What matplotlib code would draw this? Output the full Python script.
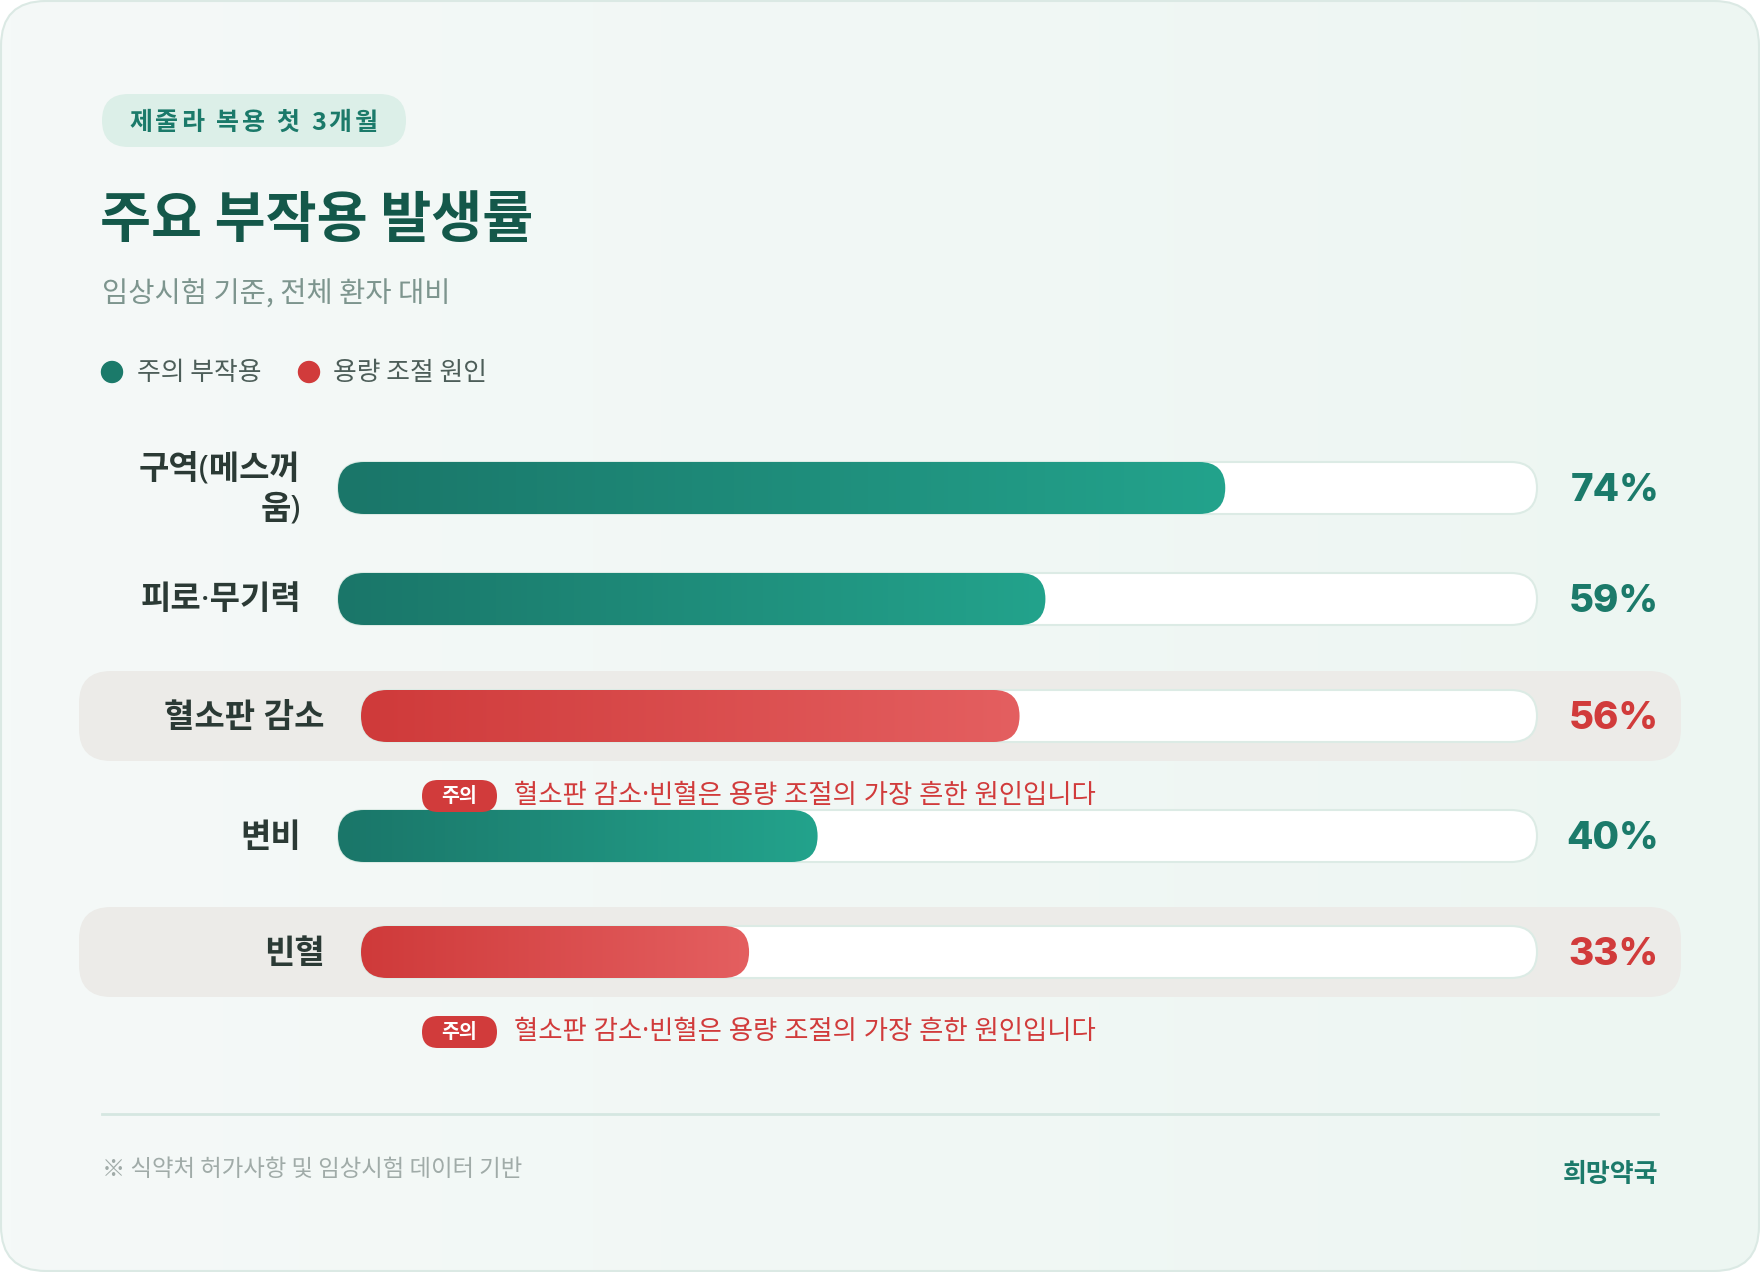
import matplotlib
matplotlib.use("Agg")
import matplotlib.pyplot as plt
from matplotlib.patches import FancyBboxPatch, Circle
from matplotlib.colors import LinearSegmentedColormap
import numpy as np

plt.rcParams['font.family'] = ['Noto Sans CJK KR', 'DejaVu Sans']
DOT_FONT = ['Noto Sans', 'Noto Sans CJK KR']

# data
labels = ["구역(메스꺼\n움)", "피로·무기력", "혈소판 감소", "변비", "빈혈"]
values = [74, 59, 56, 40, 33]
dose_adjust = [False, False, True, False, True]
badge_text = "주의"
note_text = "혈소판 감소·빈혈은 용량 조절의 가장 흔한 원인입니다"
legend_labels = ["주의 부작용", "용량 조절 원인"]
tag_text = "제줄라 복용 첫 3개월"
title = "주요 부작용 발생률"
subtitle = "임상시험 기준, 전체 환자 대비"
footnote = "※ 식약처 허가사항 및 임상시험 데이터 기반"
brand = "희망약국"

# colours
GREEN = "#1b7a6a"
RED = "#d13b3b"
green_cmap = LinearSegmentedColormap.from_list("g", ["#1a7669", "#23a38c"])
red_cmap = LinearSegmentedColormap.from_list("r", ["#cf3a3a", "#e45f60"])

W, H = 1760, 1272
fig = plt.figure(figsize=(W / 100, H / 100), dpi=100)
ax = fig.add_axes([0, 0, 1, 1])
ax.set_xlim(0, W)
ax.set_ylim(H, 0)
ax.axis("off")
renderer = fig.canvas.get_renderer()


def pt(px):
    return px * 0.72


def grad_fill(x0, y0, w, h, cmap, radius, z=3):
    patch = FancyBboxPatch((x0, y0), w, h,
                           boxstyle="round,pad=0,rounding_size=%f" % radius,
                           facecolor="none", edgecolor="none", zorder=z)
    ax.add_patch(patch)
    g = np.linspace(0, 1, 256).reshape(1, -1)
    im = ax.imshow(g, cmap=cmap, extent=[x0, x0 + w, y0 + h, y0],
                   aspect="auto", zorder=z, interpolation="bilinear")
    im.set_clip_path(patch)
    return patch


def spaced_text(x, y, s, spacing, **kw):
    # draw text one character at a time to mimic letter spacing
    for ch in s:
        t = ax.text(x, y, ch, ha="left", va="center", **kw)
        w = t.get_window_extent(renderer=renderer).width
        x += w + spacing


# card background
card_cmap = LinearSegmentedColormap.from_list("c", ["#f5f9f8", "#edf6f2"])
grad_fill(1, 1, W - 2, H - 2, card_cmap, 45, z=0)
ax.add_patch(FancyBboxPatch((1, 1), W - 2, H - 2,
                            boxstyle="round,pad=0,rounding_size=45",
                            facecolor="none", edgecolor="#dbe9e4", lw=1.5, zorder=1))

# tag pill
ax.add_patch(FancyBboxPatch((102, 94), 304, 53,
                            boxstyle="round,pad=0,rounding_size=26.5",
                            facecolor="#dcefe8", edgecolor="none", zorder=2))
spaced_text(129, 123, tag_text, 3.0, fontsize=pt(25), fontweight="bold",
            color=GREEN, zorder=3)

# title and subtitle
ax.text(100, 221, title, fontsize=pt(55.5), fontweight="bold", color="#14584a",
        va="center", ha="left")
ax.text(102, 295, subtitle, fontsize=pt(28.5), color="#7d958e",
        va="center", ha="left")

# legend
ax.add_patch(Circle((112, 372), 10.5, color=GREEN, zorder=3))
ax.text(137, 373, legend_labels[0], fontsize=pt(25.8), color="#4d5e59",
        va="center", ha="left")
ax.add_patch(Circle((309, 372), 10.5, color=RED, zorder=3))
ax.text(333, 373, legend_labels[1], fontsize=pt(25.8), color="#4d5e59",
        va="center", ha="left")

# bar rows
row_y = [488, 599, 716, 836, 952]
bar_h = 52
track_end = 1537
for lab, val, dose, yc in zip(labels, values, dose_adjust, row_y):
    if dose:
        ax.add_patch(FancyBboxPatch((79, yc - 45), 1602, 90,
                                    boxstyle="round,pad=0,rounding_size=32",
                                    facecolor="#ecebe8", edgecolor="none", zorder=1))
        x0, lab_x = 361, 325
        cmap, vcol = red_cmap, RED
    else:
        x0, lab_x = 338, 301
        cmap, vcol = green_cmap, GREEN
    span = track_end - x0
    ax.add_patch(FancyBboxPatch((x0, yc - bar_h / 2), span, bar_h,
                                boxstyle="round,pad=0,rounding_size=%f" % (bar_h / 2),
                                facecolor="white", edgecolor="#dcebe5", lw=1.5, zorder=2))
    grad_fill(x0, yc - bar_h / 2, span * val / 100.0, bar_h, cmap, bar_h / 2, z=3)
    ax.text(lab_x, yc + 2, lab, fontsize=pt(33), fontweight="bold", color="#2b3a35",
            family=DOT_FONT, ha="right", va="center", multialignment="right",
            linespacing=1.3)
    ax.text(1659, yc + 3, "%d%%" % val, fontsize=pt(38.5), fontweight=800, color=vcol,
            family=["Inter", "Noto Sans CJK KR"], ha="right", va="center")
    if dose:
        ny = yc + 80
        ax.add_patch(FancyBboxPatch((422, ny - 16), 75, 32,
                                    boxstyle="round,pad=0,rounding_size=16",
                                    facecolor=RED, edgecolor="none", zorder=4))
        ax.text(459.5, ny, badge_text, fontsize=pt(19.5), fontweight="bold",
                color="white", ha="center", va="center", zorder=5)
        ax.text(514, ny, note_text, fontsize=pt(26.4), color=RED,
                family=DOT_FONT, ha="left", va="center", zorder=5)

# footer
ax.plot([102, 1658], [1114, 1114], color="#d5e7e1", lw=2, zorder=2)
ax.text(102, 1170, footnote, fontsize=pt(23.4), color="#a0aba8",
        ha="left", va="center")
ax.text(1658, 1175, brand, fontsize=pt(26), fontweight="bold", color=GREEN,
        ha="right", va="center")

ax.set_xlim(0, W)
ax.set_ylim(H, 0)
fig.savefig("out.png", dpi=100, facecolor="white")
